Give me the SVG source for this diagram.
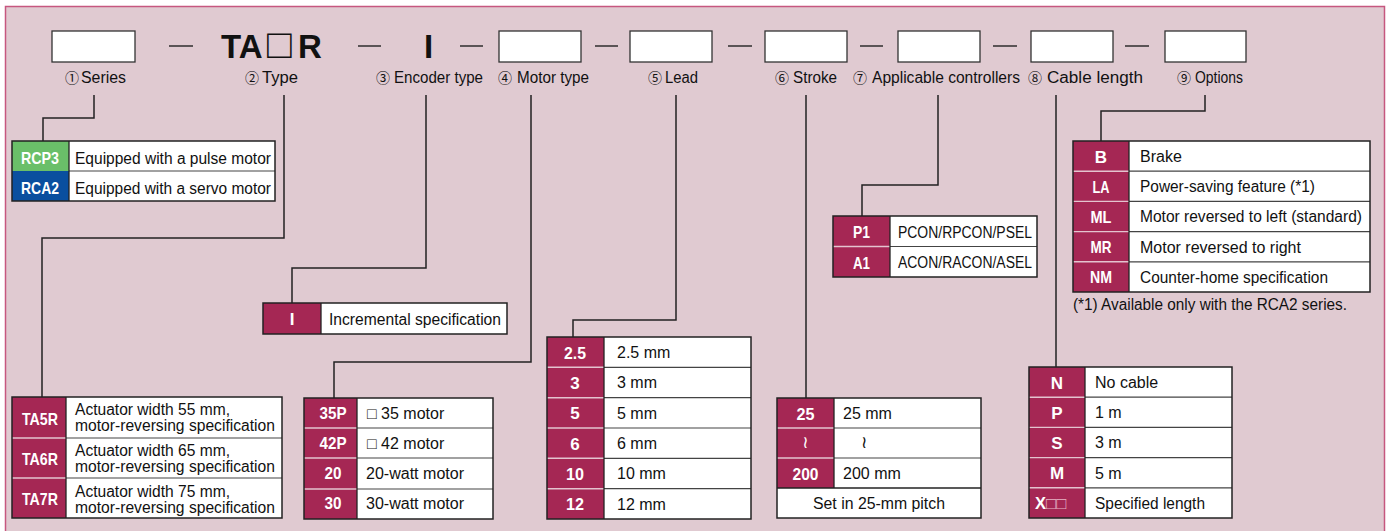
<svg xmlns="http://www.w3.org/2000/svg" width="1390" height="531" viewBox="0 0 1390 531">
<defs>
<style>
text{font-family:'Liberation Sans','DejaVu Sans',Arial,sans-serif;font-size:16px;fill:#111}
.code{font-weight:bold;fill:#fff;text-anchor:middle;font-size:17px}
.crim{fill:#a52754}
.white{fill:#fff}
.border{fill:none;stroke:#222;stroke-width:1.5}
.ldiv{stroke:#e4c4cf;stroke-width:1.4}
.ddiv{stroke:#444;stroke-width:1.2}
.cdiv{stroke:#222;stroke-width:1.3}
.conn{fill:none;stroke:#222;stroke-width:1.5}
.box{fill:#fff;stroke:#333;stroke-width:1.3}
.dash{stroke:#222;stroke-width:1.4}
.circ{font-family:'Noto Sans CJK JP','DejaVu Sans',sans-serif;font-size:14px}
</style>
</defs>
<rect x="0" y="0" width="1390" height="531" fill="#fff"/>
<rect x="5.5" y="6.5" width="1379" height="540" fill="#e0cad1" stroke="#c6577f" stroke-width="1.5"/>

<g id="header">
<rect class="box" x="52" y="31" width="83" height="31"/>
<line class="dash" x1="169" y1="46" x2="193" y2="46"/>
<text x="221" y="58" style="font-size:33px;font-weight:bold"><tspan>TA</tspan><tspan x="267" style="font-weight:normal;font-size:41px">□</tspan><tspan x="298">R</tspan></text>
<line class="dash" x1="358" y1="46" x2="381" y2="46"/>
<text x="424" y="58" style="font-size:33px;font-weight:bold">I</text>
<line class="dash" x1="460" y1="46" x2="483" y2="46"/>
<rect class="box" x="499" y="31" width="82" height="31"/>
<line class="dash" x1="595" y1="46" x2="618" y2="46"/>
<rect class="box" x="630" y="31" width="82" height="31"/>
<line class="dash" x1="728" y1="46" x2="752" y2="46"/>
<rect class="box" x="765" y="31" width="82" height="31"/>
<line class="dash" x1="860" y1="46" x2="883" y2="46"/>
<rect class="box" x="898" y="31" width="82" height="31"/>
<line class="dash" x1="993" y1="46" x2="1017" y2="46"/>
<rect class="box" x="1031" y="31" width="82" height="31"/>
<line class="dash" x1="1125" y1="46" x2="1149" y2="46"/>
<rect class="box" x="1165" y="31" width="81" height="31"/>

<text y="83"><tspan class="circ" x="65">①</tspan><tspan x="81" textLength="45" lengthAdjust="spacingAndGlyphs">Series</tspan></text>
<text y="83"><tspan class="circ" x="245">②</tspan><tspan x="262" textLength="36" lengthAdjust="spacingAndGlyphs">Type</tspan></text>
<text y="83"><tspan class="circ" x="376">③</tspan><tspan x="394" textLength="89" lengthAdjust="spacingAndGlyphs">Encoder type</tspan></text>
<text y="83"><tspan class="circ" x="498">④</tspan><tspan x="517" textLength="72" lengthAdjust="spacingAndGlyphs">Motor type</tspan></text>
<text y="83"><tspan class="circ" x="648">⑤</tspan><tspan x="665" textLength="33" lengthAdjust="spacingAndGlyphs">Lead</tspan></text>
<text y="83"><tspan class="circ" x="775">⑥</tspan><tspan x="793" textLength="44" lengthAdjust="spacingAndGlyphs">Stroke</tspan></text>
<text y="83"><tspan class="circ" x="853">⑦</tspan><tspan x="872" textLength="148" lengthAdjust="spacingAndGlyphs">Applicable controllers</tspan></text>
<text y="83"><tspan class="circ" x="1028">⑧</tspan><tspan x="1047" textLength="96" lengthAdjust="spacingAndGlyphs">Cable length</tspan></text>
<text y="83"><tspan class="circ" x="1177">⑨</tspan><tspan x="1195" textLength="48" lengthAdjust="spacingAndGlyphs">Options</tspan></text>
</g>

<g id="connectors">
<path class="conn" d="M94 95 V118 H43 V141"/>
<path class="conn" d="M284 95 V238 H42 V397"/>
<path class="conn" d="M426 95 V268 H292 V303"/>
<path class="conn" d="M531 95 V362 H334 V398"/>
<path class="conn" d="M676 95 V320 H573 V337"/>
<path class="conn" d="M806 95 V398"/>
<path class="conn" d="M938 95 V185 H862 V216"/>
<path class="conn" d="M1056 95 V367"/>
<path class="conn" d="M1205 95 V111 H1101 V141"/>
</g>

<g id="series-table">
<rect x="12" y="141" width="57" height="30" fill="#6abf69"/>
<rect x="12" y="171" width="57" height="30" fill="#0a4f9f"/>
<rect class="white" x="69" y="141" width="206" height="60"/>
<line class="ddiv" x1="69" y1="171" x2="275" y2="171"/>
<line class="cdiv" x1="69" y1="141" x2="69" y2="201"/>
<rect class="border" x="12" y="141" width="263" height="60"/>
<text class="code" x="40" y="163.5" textLength="38" lengthAdjust="spacingAndGlyphs">RCP3</text>
<text class="code" x="40" y="193.5" textLength="38" lengthAdjust="spacingAndGlyphs">RCA2</text>
<text x="75" y="163.5" textLength="196" lengthAdjust="spacingAndGlyphs">Equipped with a pulse motor</text>
<text x="75" y="193.5" textLength="196" lengthAdjust="spacingAndGlyphs">Equipped with a servo motor</text>
</g>

<g id="type-table">
<rect class="crim" x="12" y="397" width="54" height="121"/>
<rect class="white" x="66" y="397" width="216" height="121"/>
<line class="ldiv" x1="12" y1="438" x2="66" y2="438"/>
<line class="ldiv" x1="12" y1="478" x2="66" y2="478"/>
<line class="ddiv" x1="66" y1="438" x2="282" y2="438"/>
<line class="ddiv" x1="66" y1="478" x2="282" y2="478"/>
<line class="cdiv" x1="66" y1="397" x2="66" y2="518"/>
<rect class="border" x="12" y="397" width="270" height="121"/>
<text class="code" x="40" y="424.5" textLength="36" lengthAdjust="spacingAndGlyphs">TA5R</text>
<text class="code" x="40" y="464.5" textLength="36" lengthAdjust="spacingAndGlyphs">TA6R</text>
<text class="code" x="40" y="504.5" textLength="36" lengthAdjust="spacingAndGlyphs">TA7R</text>
<text x="75" y="415" textLength="155" lengthAdjust="spacingAndGlyphs">Actuator width 55 mm,</text>
<text x="75" y="431" textLength="200" lengthAdjust="spacingAndGlyphs">motor-reversing specification</text>
<text x="75" y="455.5" textLength="155" lengthAdjust="spacingAndGlyphs">Actuator width 65 mm,</text>
<text x="75" y="471.5" textLength="200" lengthAdjust="spacingAndGlyphs">motor-reversing specification</text>
<text x="75" y="496.5" textLength="155" lengthAdjust="spacingAndGlyphs">Actuator width 75 mm,</text>
<text x="75" y="512.5" textLength="200" lengthAdjust="spacingAndGlyphs">motor-reversing specification</text>
</g>

<g id="encoder-table">
<rect class="crim" x="263" y="303" width="58" height="31"/>
<rect class="white" x="321" y="303" width="186" height="31"/>
<line class="cdiv" x1="321" y1="303" x2="321" y2="334"/>
<rect class="border" x="263" y="303" width="244" height="31"/>
<text class="code" x="292" y="325">I</text>
<text x="329" y="325" textLength="172" lengthAdjust="spacingAndGlyphs">Incremental specification</text>
</g>

<g id="motor-table">
<rect class="crim" x="304" y="398" width="53" height="121"/>
<rect class="white" x="357" y="398" width="136" height="121"/>
<line class="ldiv" x1="304" y1="428" x2="357" y2="428"/>
<line class="ldiv" x1="304" y1="458" x2="357" y2="458"/>
<line class="ldiv" x1="304" y1="489" x2="357" y2="489"/>
<line class="ddiv" x1="357" y1="428" x2="493" y2="428"/>
<line class="ddiv" x1="357" y1="458" x2="493" y2="458"/>
<line class="ddiv" x1="357" y1="489" x2="493" y2="489"/>
<line class="cdiv" x1="357" y1="398" x2="357" y2="519"/>
<rect class="border" x="304" y="398" width="189" height="121"/>
<text class="code" x="333" y="419" textLength="27" lengthAdjust="spacingAndGlyphs">35P</text>
<text class="code" x="333" y="449" textLength="27" lengthAdjust="spacingAndGlyphs">42P</text>
<text class="code" x="333" y="479" textLength="17" lengthAdjust="spacingAndGlyphs">20</text>
<text class="code" x="333" y="509" textLength="17" lengthAdjust="spacingAndGlyphs">30</text>
<text x="367" y="419">□ 35 motor</text>
<text x="367" y="449">□ 42 motor</text>
<text x="366" y="479" textLength="98" lengthAdjust="spacingAndGlyphs">20-watt motor</text>
<text x="366" y="509" textLength="98" lengthAdjust="spacingAndGlyphs">30-watt motor</text>
</g>

<g id="lead-table">
<rect class="crim" x="547" y="337" width="57" height="182"/>
<rect class="white" x="604" y="337" width="147" height="182"/>
<line class="ldiv" x1="547" y1="367.3" x2="604" y2="367.3"/>
<line class="ldiv" x1="547" y1="397.7" x2="604" y2="397.7"/>
<line class="ldiv" x1="547" y1="428" x2="604" y2="428"/>
<line class="ldiv" x1="547" y1="458.3" x2="604" y2="458.3"/>
<line class="ldiv" x1="547" y1="488.7" x2="604" y2="488.7"/>
<line class="ddiv" x1="604" y1="367.3" x2="751" y2="367.3"/>
<line class="ddiv" x1="604" y1="397.7" x2="751" y2="397.7"/>
<line class="ddiv" x1="604" y1="428" x2="751" y2="428"/>
<line class="ddiv" x1="604" y1="458.3" x2="751" y2="458.3"/>
<line class="ddiv" x1="604" y1="488.7" x2="751" y2="488.7"/>
<line class="cdiv" x1="604" y1="337" x2="604" y2="519"/>
<rect class="border" x="547" y="337" width="204" height="182"/>
<text class="code" x="575" y="358.5" textLength="22" lengthAdjust="spacingAndGlyphs">2.5</text>
<text class="code" x="575" y="388.8">3</text>
<text class="code" x="575" y="419.2">5</text>
<text class="code" x="575" y="449.5">6</text>
<text class="code" x="575" y="479.8" textLength="18" lengthAdjust="spacingAndGlyphs">10</text>
<text class="code" x="575" y="510.2" textLength="18" lengthAdjust="spacingAndGlyphs">12</text>
<text x="617" y="358">2.5 mm</text>
<text x="617" y="388.3">3 mm</text>
<text x="617" y="418.7">5 mm</text>
<text x="617" y="449">6 mm</text>
<text x="617" y="479.3">10 mm</text>
<text x="617" y="509.7">12 mm</text>
</g>

<g id="stroke-table">
<rect class="crim" x="777" y="398" width="57" height="90"/>
<rect class="white" x="834" y="398" width="147" height="90"/>
<rect class="white" x="777" y="488" width="204" height="30"/>
<line class="ldiv" x1="777" y1="428" x2="834" y2="428"/>
<line class="ldiv" x1="777" y1="458" x2="834" y2="458"/>
<line class="ddiv" x1="834" y1="428" x2="981" y2="428"/>
<line class="ddiv" x1="834" y1="458" x2="981" y2="458"/>
<line class="cdiv" x1="777" y1="488" x2="981" y2="488"/>
<line class="cdiv" x1="834" y1="398" x2="834" y2="488"/>
<rect class="border" x="777" y="398" width="204" height="120"/>
<text class="code" x="805.5" y="448" style="font-size:17px;font-weight:normal">≀</text>
<text class="code" x="805.5" y="419.5" textLength="18" lengthAdjust="spacingAndGlyphs">25</text>
<text class="code" x="805.5" y="479.5" textLength="26" lengthAdjust="spacingAndGlyphs">200</text>
<text x="843" y="419">25 mm</text>
<text x="861" y="448" style="font-size:17px">≀</text>
<text x="843" y="479">200 mm</text>
<text x="879" y="509" text-anchor="middle" textLength="132" lengthAdjust="spacingAndGlyphs">Set in 25-mm pitch</text>
</g>

<g id="controller-table">
<rect class="crim" x="833" y="216" width="57" height="61"/>
<rect class="white" x="890" y="216" width="147" height="61"/>
<line class="ldiv" x1="833" y1="246.5" x2="890" y2="246.5"/>
<line class="ddiv" x1="890" y1="246.5" x2="1037" y2="246.5"/>
<line class="cdiv" x1="890" y1="216" x2="890" y2="277"/>
<rect class="border" x="833" y="216" width="204" height="61"/>
<text class="code" x="861.5" y="238" textLength="17" lengthAdjust="spacingAndGlyphs">P1</text>
<text class="code" x="861.5" y="268.5" textLength="17" lengthAdjust="spacingAndGlyphs">A1</text>
<text x="898" y="237.5" textLength="134" lengthAdjust="spacingAndGlyphs">PCON/RPCON/PSEL</text>
<text x="898" y="268" textLength="134" lengthAdjust="spacingAndGlyphs">ACON/RACON/ASEL</text>
</g>

<g id="cable-table">
<rect class="crim" x="1029" y="367" width="56" height="151"/>
<rect class="white" x="1085" y="367" width="147" height="151"/>
<line class="ldiv" x1="1029" y1="397.2" x2="1085" y2="397.2"/>
<line class="ldiv" x1="1029" y1="427.4" x2="1085" y2="427.4"/>
<line class="ldiv" x1="1029" y1="457.6" x2="1085" y2="457.6"/>
<line class="ldiv" x1="1029" y1="487.8" x2="1085" y2="487.8"/>
<line class="ddiv" x1="1085" y1="397.2" x2="1232" y2="397.2"/>
<line class="ddiv" x1="1085" y1="427.4" x2="1232" y2="427.4"/>
<line class="ddiv" x1="1085" y1="457.6" x2="1232" y2="457.6"/>
<line class="ddiv" x1="1085" y1="487.8" x2="1232" y2="487.8"/>
<line class="cdiv" x1="1085" y1="367" x2="1085" y2="518"/>
<rect class="border" x="1029" y="367" width="203" height="151"/>
<text class="code" x="1057" y="388.5">N</text>
<text class="code" x="1057" y="418.7">P</text>
<text class="code" x="1057" y="448.9">S</text>
<text class="code" x="1057" y="479.1">M</text>
<text x="1035" y="509.3" style="font-weight:bold;fill:#fff;font-size:16.5px">X<tspan style="font-weight:normal;fill:#e6b3c4;font-size:17px">□□</tspan></text>
<text x="1095" y="388">No cable</text>
<text x="1095" y="418.2">1 m</text>
<text x="1095" y="448.4">3 m</text>
<text x="1095" y="478.6">5 m</text>
<text x="1095" y="508.8" textLength="110" lengthAdjust="spacingAndGlyphs">Specified length</text>
</g>

<g id="options-table">
<rect class="crim" x="1073" y="141" width="56" height="151"/>
<rect class="white" x="1129" y="141" width="241" height="151"/>
<line class="ldiv" x1="1073" y1="171.2" x2="1129" y2="171.2"/>
<line class="ldiv" x1="1073" y1="201.4" x2="1129" y2="201.4"/>
<line class="ldiv" x1="1073" y1="231.6" x2="1129" y2="231.6"/>
<line class="ldiv" x1="1073" y1="261.8" x2="1129" y2="261.8"/>
<line class="ddiv" x1="1129" y1="171.2" x2="1370" y2="171.2"/>
<line class="ddiv" x1="1129" y1="201.4" x2="1370" y2="201.4"/>
<line class="ddiv" x1="1129" y1="231.6" x2="1370" y2="231.6"/>
<line class="ddiv" x1="1129" y1="261.8" x2="1370" y2="261.8"/>
<line class="cdiv" x1="1129" y1="141" x2="1129" y2="292"/>
<rect class="border" x="1073" y="141" width="297" height="151"/>
<text class="code" x="1101" y="162.5">B</text>
<text class="code" x="1101" y="192.7" textLength="17" lengthAdjust="spacingAndGlyphs">LA</text>
<text class="code" x="1101" y="222.9" textLength="21" lengthAdjust="spacingAndGlyphs">ML</text>
<text class="code" x="1101" y="253.1" textLength="21" lengthAdjust="spacingAndGlyphs">MR</text>
<text class="code" x="1101" y="283.3" textLength="22" lengthAdjust="spacingAndGlyphs">NM</text>
<text x="1140" y="162">Brake</text>
<text x="1140" y="192.2" textLength="175" lengthAdjust="spacingAndGlyphs">Power-saving feature (*1)</text>
<text x="1140" y="222.4" textLength="222" lengthAdjust="spacingAndGlyphs">Motor reversed to left (standard)</text>
<text x="1140" y="252.6">Motor reversed to right</text>
<text x="1140" y="282.8" textLength="188" lengthAdjust="spacingAndGlyphs">Counter-home specification</text>
<text x="1073" y="310" textLength="274" lengthAdjust="spacingAndGlyphs">(*1) Available only with the RCA2 series.</text>
</g>
</svg>
